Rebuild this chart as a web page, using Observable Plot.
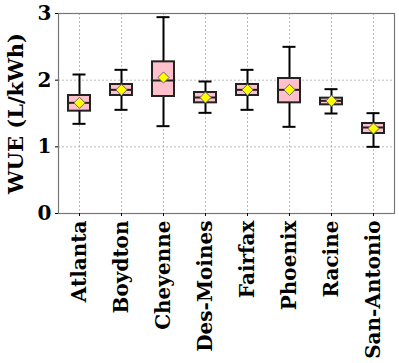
<!DOCTYPE html>
<html>
<head>
<meta charset="utf-8">
<script src="https://cdn.jsdelivr.net/npm/d3@7"></script>
<script src="https://cdn.jsdelivr.net/npm/@observablehq/plot@0.6"></script>
<style>
  html, body { margin: 0; padding: 0; background: #fff; }
  #chart svg { font-family: "DejaVu Serif", serif; font-weight: bold; }
  #chart g[aria-label="y-axis label"] text { font-size: 21px; }
</style>
</head>
<body>
<div id="chart"></div>
<script>
const cities = ["Atlanta", "Boydton", "Cheyenne", "Des-Moines", "Fairfax", "Phoenix", "Racine", "San-Antonio"];
const whiskerLow  = [1.345, 1.555, 1.31, 1.51, 1.555, 1.30, 1.50, 1.00];
const q1          = [1.535, 1.77, 1.755, 1.66, 1.77, 1.66, 1.63, 1.20];
const medians     = [1.66, 1.855, 1.995, 1.74, 1.855, 1.855, 1.69, 1.29];
const q3          = [1.77, 1.935, 2.275, 1.815, 1.935, 2.025, 1.73, 1.35];
const whiskerHigh = [2.085, 2.155, 2.945, 1.98, 2.155, 2.50, 1.865, 1.505];
const means       = [1.66, 1.855, 2.04, 1.74, 1.855, 1.855, 1.69, 1.275];
const yTicks = [0, 1, 2, 3];

const data = cities.map((c, i) => ({
  city: c, lo: whiskerLow[i], q1: q1[i], med: medians[i], q3: q3[i], hi: whiskerHigh[i], mean: means[i]
}));

const chart = Plot.plot({
  width: 399,
  height: 363,
  marginLeft: 58,
  marginRight: 5,
  marginTop: 13,
  marginBottom: 150,
  x: { domain: cities, padding: 0, label: null },
  y: { domain: [0, 3], label: null },
  marks: [
    Plot.gridY(yTicks, { stroke: "#aaa", strokeOpacity: 1, strokeWidth: 0.8, strokeDasharray: "2,2" }),
    Plot.gridX(cities, { stroke: "#aaa", strokeOpacity: 1, strokeWidth: 0.8, strokeDasharray: "2,2" }),
    Plot.frame({ stroke: "#777", strokeWidth: 1.2 }),
    Plot.ruleX(data, { x: "city", y1: "lo", y2: "hi", stroke: "black", strokeWidth: 2 }),
    Plot.tickY(data, { x: "city", y: "lo", stroke: "black", strokeWidth: 2, insetLeft: 14.5, insetRight: 14.5 }),
    Plot.tickY(data, { x: "city", y: "hi", stroke: "black", strokeWidth: 2, insetLeft: 14.5, insetRight: 14.5 }),
    Plot.barY(data, { x: "city", y1: "q1", y2: "q3", fill: "pink", stroke: "#222", strokeWidth: 2, insetLeft: 10, insetRight: 10 }),
    Plot.tickY(data, { x: "city", y: "med", stroke: "#222", strokeWidth: 2, insetLeft: 10, insetRight: 10 }),
    Plot.dot(data, { x: "city", y: "mean", symbol: "diamond2", r: 5, fill: "yellow", stroke: "#666", strokeWidth: 1 }),
    Plot.axisY({ ticks: yTicks, tickFormat: "d", tickSize: 3, tickPadding: 4, fontSize: 20, fill: "black", label: "WUE (L/kWh)", labelAnchor: "center", labelOffset: 50, labelArrow: "none" }),
    Plot.axisX({ tickSize: 3, tickPadding: 4, tickRotate: -90, fontSize: 20, fill: "black", label: null })
  ]
});
document.getElementById("chart").appendChild(chart);
</script>
</body>
</html>
